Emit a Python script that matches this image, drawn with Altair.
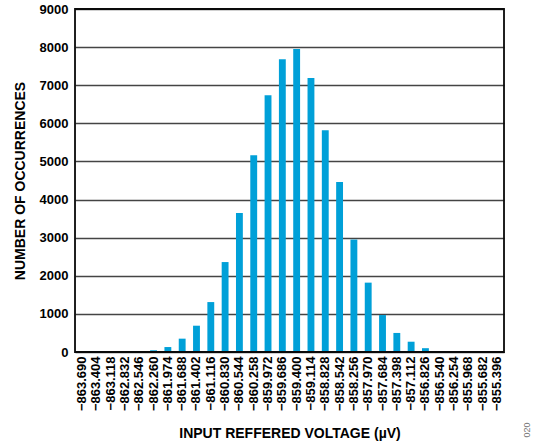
import altair as alt
import pandas as pd

# Histogram of input-referred voltage readings
voltages = [
    "−863.690", "−863.404", "−863.118", "−862.832", "−862.546", "−862.260",
    "−861.974", "−861.688", "−861.402", "−861.116", "−860.830", "−860.544",
    "−860.258", "−859.972", "−859.686", "−859.400", "−859.114", "−858.828",
    "−858.542", "−858.256", "−857.970", "−857.684", "−857.398", "−857.112",
    "−856.826", "−856.540", "−856.254", "−855.968", "−855.682", "−855.396",
]
counts = [
    0, 0, 0, 0, 5, 45,
    130, 350, 690, 1310, 2360, 3650,
    5160, 6740, 7680, 7950, 7190, 5820,
    4460, 2950, 1820, 970, 500, 270,
    100, 25, 15, 10, 0, 0,
]

df = pd.DataFrame({"voltage": voltages, "count": counts})

FONT = "Liberation Sans"
FRAME = "#0a0a0a"
W, H = 429, 343

bars = alt.Chart(df).mark_bar(color="#00A0D8").encode(
    x=alt.X(
        "voltage:N",
        sort=None,
        scale=alt.Scale(paddingInner=0.52, paddingOuter=0.25),
        axis=alt.Axis(
            title="INPUT REFFERED VOLTAGE (µV)",
            labelAngle=-90,
            labelFont=FONT,
            labelFontSize=13,
            labelFontWeight="bold",
            labelColor="black",
            labelPadding=4,
            ticks=False,
            domain=False,
            titleFont=FONT,
            titleFontSize=14,
            titleFontWeight="bold",
            titleColor="black",
            titlePadding=16,
        ),
    ),
    y=alt.Y(
        "count:Q",
        scale=alt.Scale(domain=[0, 9000], nice=False),
        axis=alt.Axis(
            title="NUMBER OF OCCURRENCES",
            values=list(range(0, 9001, 1000)),
            format="d",
            labelFont=FONT,
            labelFontSize=13,
            labelFontWeight="bold",
            labelColor="black",
            labelPadding=7,
            ticks=False,
            domain=False,
            grid=True,
            gridColor="#444444",
            gridWidth=1.3,
            gridOpacity=1,
            titleFont=FONT,
            titleFontSize=14,
            titleFontWeight="bold",
            titleColor="black",
            titlePadding=12,
        ),
    ),
)

# Outline around the plotting area
frame = alt.Chart(pd.DataFrame({"f": [0]})).mark_rect(
    fill="white", fillOpacity=0, stroke=FRAME, strokeWidth=1.8, clip=False
).encode(
    x=alt.value(0), x2=alt.value(W), y=alt.value(0), y2=alt.value(H)
)

code = alt.Chart(pd.DataFrame({"t": ["020"]})).mark_text(
    angle=270, fontSize=9, font=FONT, color="#777777", clip=False
).encode(text="t:N", x=alt.value(452), y=alt.value(421))

chart = alt.layer(bars, frame, code).properties(
    width=W,
    height=H,
    autosize=alt.AutoSizeParams(type="none"),
    padding={"left": 75, "top": 9, "right": 33, "bottom": 94},
)

chart.save("out.html", embed_options={"renderer": "svg", "actions": False})
